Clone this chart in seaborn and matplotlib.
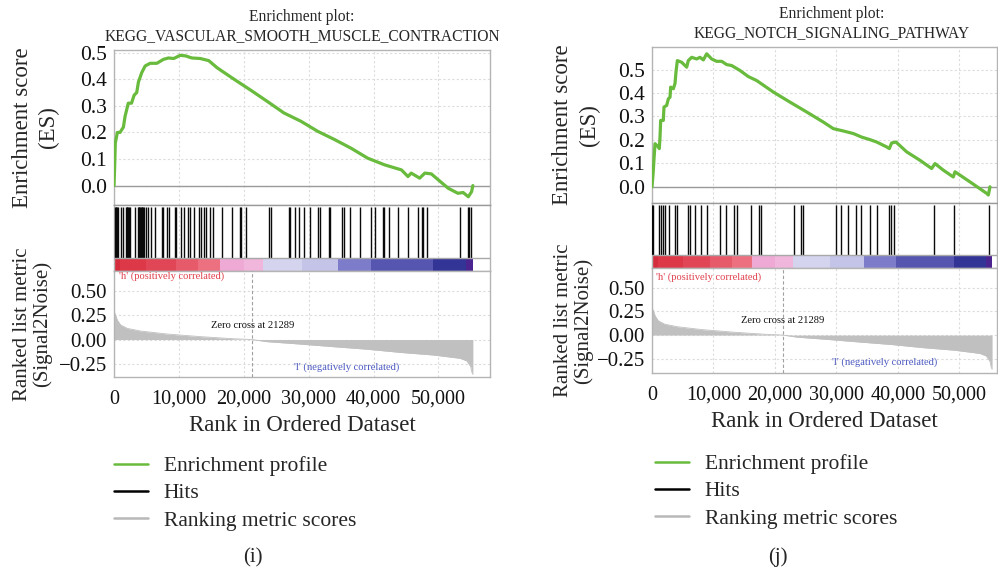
import numpy as np
import matplotlib
matplotlib.use("Agg")
import matplotlib.pyplot as plt
from matplotlib.lines import Line2D
from matplotlib.ticker import FixedLocator, FuncFormatter
import seaborn as sns

# ---------------- data ----------------
N_GENES = 55300
ZERO_CROSS = 21289

# panel (i): KEGG_VASCULAR_SMOOTH_MUSCLE_CONTRACTION
es_rank_i = [0, 100, 200, 520, 930, 1450, 1700, 2200, 2700, 3100, 3500, 3770, 4280,
             4800, 5570, 6600, 7640, 8400, 9200, 10200, 11000, 12000, 13300, 14600,
             15900, 18500, 21000, 23600, 26200, 28800, 31400, 34000, 36500, 39100,
             41700, 44300, 45300, 45800, 47100, 47900, 48900, 50000, 51500, 53000,
             53800, 54600, 55100, 55300]
es_val_i = [0.0, 0.07, 0.16, 0.20, 0.20, 0.22, 0.26, 0.31, 0.31, 0.34, 0.35, 0.39, 0.425,
            0.45, 0.46, 0.46, 0.475, 0.48, 0.478, 0.49, 0.488, 0.48, 0.478, 0.47,
            0.443, 0.40, 0.36, 0.317, 0.273, 0.242, 0.204, 0.173, 0.141, 0.103,
            0.078, 0.059, 0.034, 0.047, 0.028, 0.047, 0.044, 0.021, -0.01, -0.029,
            -0.026, -0.042, -0.023, 0.0]
hits_i = [108, 240, 369, 500, 615, 1138, 1446, 1799, 1930, 2061, 2180, 2307, 2461, 3230,
          3691, 3800, 3907, 4010, 4107, 4250, 4368, 4500, 4614, 4876, 5229, 5752, 6306,
          7336, 7598, 8213, 8521, 9336, 9597, 10366, 10766, 11443, 11689, 12304, 13027,
          13442, 13842, 14103, 14765, 15288, 16672, 18210, 19379, 19640, 20409, 23947,
          24208, 26915, 27177, 27838, 28561, 29222, 30252, 31437, 31790, 33067, 33329,
          35128, 35374, 36297, 37943, 39588, 40250, 41526, 41680, 42449, 43741, 45279,
          46817, 47432, 47678, 48201, 53323, 54507, 54707, 54969]

# panel (j): KEGG_NOTCH_SIGNALING_PATHWAY
es_rank_j = [0, 200, 330, 490, 1030, 1190, 1300, 1410, 1840, 1950, 2385, 2660, 2930,
             3035, 3470, 3740, 3900, 4120, 4820, 5640, 5900, 6450, 7260, 7800, 8350,
             8890, 9700, 10500, 11330, 12140, 12950, 14300, 15660, 17020, 19730, 22440,
             25150, 27860, 29480, 31110, 32740, 34090, 35450, 36530, 38160, 38590,
             38970, 39670, 41410, 43580, 45470, 46020, 47370, 48990, 49270, 51710,
             54420, 54690, 54960]
es_val_j = [0.0, 0.064, 0.12, 0.184, 0.17, 0.163, 0.21, 0.283, 0.283, 0.34, 0.347, 0.375,
            0.382, 0.425, 0.418, 0.44, 0.489, 0.538, 0.531, 0.51, 0.538, 0.552, 0.545,
            0.552, 0.541, 0.567, 0.545, 0.535, 0.535, 0.521, 0.517, 0.496, 0.47, 0.453,
            0.404, 0.361, 0.319, 0.276, 0.248, 0.238, 0.227, 0.212, 0.201, 0.191, 0.17,
            0.163, 0.187, 0.191, 0.149, 0.113, 0.078, 0.099, 0.071, 0.042, 0.064, 0.021,
            -0.028, -0.035, 0.0]
hits_j = [30, 160, 1089, 1415, 1789, 2163, 2764, 3691, 4114, 5854, 6130, 6943, 7918,
          8943, 11106, 12081, 13334, 13870, 16045, 17394, 17671, 23089, 24276, 24553,
          29870, 30683, 31821, 33122, 33935, 35447, 36634, 38585, 38813, 39398, 45853,
          49154, 54845]

# ranked list metric (Signal2Noise), shared by both panels
metric_rank = [0, 260, 520, 1030, 2060, 4100, 8210, 13330, 18460, 21289, 23590, 28720,
               33840, 38970, 44100, 49220, 53320, 54350, 54970, 55120, 55300]
metric_val = [0.29, 0.25, 0.20, 0.15, 0.115, 0.088, 0.057, 0.03, 0.008, 0.0, -0.022,
              -0.047, -0.074, -0.10, -0.133, -0.16, -0.194, -0.22, -0.28, -0.333, -0.36]

# phenotype colour bar: bin edges along the ranked list and their colours
cbar_edges = [0, 1000, 5000, 9500, 13000, 16300, 20000, 23000, 29000, 34500, 39600,
              49100, 54300, 55300]
cbar_colors = ['#d42c3c', '#dc3848', '#e04656', '#e65a6a', '#ec7080', '#eeaad4',
               '#f0b6dc', '#d4d4ef', '#c4c4e8', '#7c7cca', '#5656b0', '#323496',
               '#4c2490']

x_ticks = [0, 10000, 20000, 30000, 40000, 50000]
es_ticks = [0.0, 0.1, 0.2, 0.3, 0.4, 0.5]
metric_ticks = [-0.25, 0.0, 0.25, 0.50]

# ---------------- style ----------------
sns.set_theme(style="white")
plt.rcParams["font.family"] = ["Liberation Serif", "DejaVu Serif"]
plt.rcParams["axes.unicode_minus"] = True

GREEN = "#68bb3c"
GREY_FILL = "#c0c0c0"
SPINE = "#b4b4b4"
GRID = "#dcdcdc"

W, H = 998, 571
fig = plt.figure(figsize=(W / 100, H / 100), dpi=100)


def rect(x0, x1, y0, y1):
    """Pixel box (left, right, top, bottom) -> figure fraction rect."""
    return [x0 / W, 1 - y1 / H, (x1 - x0) / W, (y1 - y0) / H]


def style_axes(ax):
    for s in ax.spines.values():
        s.set_color(SPINE)
        s.set_linewidth(1.0)
    ax.tick_params(length=0, pad=5, colors="#111111")


def draw_panel(px, tops, title, title_x, es_rank, es_val, hits, es_ylim, xmax,
               metric_ylim, h_y, l_x, es_lab_x, rm_lab_x):
    x0, x1 = px
    t_es, t_hit, t_rm, b_rm = tops
    ax_es = fig.add_axes(rect(x0, x1, t_es, t_hit))
    ax_hit = fig.add_axes(rect(x0, x1, t_hit, t_rm), sharex=ax_es)
    ax_rm = fig.add_axes(rect(x0, x1, t_rm, b_rm), sharex=ax_es)
    for ax in (ax_es, ax_hit, ax_rm):
        style_axes(ax)

    # enrichment profile
    ax_es.grid(True, ls=(0, (2, 2)), color=GRID, lw=0.8)
    ax_es.axhline(0, color="#9a9a9a", lw=1.0, zorder=1)
    sns.lineplot(x=es_rank, y=es_val, ax=ax_es, color=GREEN, lw=2.3,
                 sort=False, estimator=None, zorder=3)
    ax_es.set_ylim(*es_ylim)
    ax_es.yaxis.set_major_locator(FixedLocator(es_ticks))
    ax_es.yaxis.set_major_formatter(FuncFormatter(lambda v, p: f"{v:.1f}"))
    ax_es.tick_params(axis="y", labelsize=15.5)
    ax_es.tick_params(axis="x", labelbottom=False)
    ax_es.set_xlabel("")
    ax_es.set_ylabel("Enrichment score\n(ES)", fontsize=16.5, linespacing=1.35)
    ax_es.yaxis.set_label_coords(es_lab_x, 0.5)
    ax_es.set_title(f"Enrichment plot:\n{title}", fontsize=11.2, pad=7,
                    linespacing=1.25, x=title_x)

    # hits and phenotype colour bar
    ax_hit.grid(True, axis="x", ls=(0, (2, 2)), color=GRID, lw=0.8)
    ax_hit.set_ylim(0, 1)
    ax_hit.vlines(hits, 0.2, 0.965, color="#0a0a0a", lw=1.0, zorder=3)
    ax_hit.bar(cbar_edges[:-1], 0.2, width=np.diff(cbar_edges), align="edge",
               color=cbar_colors, linewidth=0, zorder=2)
    ax_hit.axhline(0.2, color="#a8a8a8", lw=1.0, zorder=4)
    ax_hit.spines["top"].set_color("#9a9a9a")
    ax_hit.set_yticks([])
    ax_hit.tick_params(axis="x", labelbottom=False)

    # ranked list metric
    ax_rm.grid(True, ls=(0, (2, 2)), color=GRID, lw=0.8)
    ax_rm.fill_between(metric_rank, metric_val, 0, color=GREY_FILL, lw=0, zorder=2)
    sns.lineplot(x=metric_rank, y=metric_val, ax=ax_rm, color=GREY_FILL, lw=0.6,
                 sort=False, estimator=None, zorder=2)
    ax_rm.axvline(ZERO_CROSS, color="#a0a0a0", lw=0.8, ls=(0, (3, 2)), zorder=3)
    ax_rm.set_ylim(*metric_ylim)
    ax_rm.yaxis.set_major_locator(FixedLocator(metric_ticks))
    ax_rm.yaxis.set_major_formatter(FuncFormatter(lambda v, p: f"{v:.2f}".replace("-", "\u2212")))
    ax_rm.tick_params(axis="y", labelsize=15)
    ax_rm.xaxis.set_major_locator(FixedLocator(x_ticks))
    ax_rm.xaxis.set_major_formatter(FuncFormatter(lambda v, p: f"{int(v):,}"))
    ax_rm.tick_params(axis="x", labelsize=14.5, pad=9)
    ax_rm.set_xlim(0, xmax)
    ax_rm.set_xlabel("Rank in Ordered Dataset", fontsize=16.5, labelpad=5)
    ax_rm.set_ylabel("Ranked list metric\n(Signal2Noise)", fontsize=15, linespacing=1.0)
    ax_rm.yaxis.set_label_coords(rm_lab_x, 0.5)
    ax_rm.text(ZERO_CROSS, 0.15, f"Zero cross at {ZERO_CROSS}", ha="center",
               va="center", fontsize=7.6, color="#111111", zorder=5)
    ax_rm.text(0.013, h_y, "'h' (positively correlated)", transform=ax_rm.transAxes,
               ha="left", va="top", fontsize=7.6, color="#e0404c", zorder=5)
    ax_rm.text(l_x, -0.29, "'l' (negatively correlated)", ha="center", va="center",
               fontsize=7.6, color="#4a58c0", zorder=5)
    return ax_es, ax_hit, ax_rm


draw_panel((114, 490), (50, 205, 271, 377), "KEGG_VASCULAR_SMOOTH_MUSCLE_CONTRACTION", 0.5,
           es_rank_i, es_val_i, hits_i, (-0.073, 0.51), 57940, (-0.387, 0.708),
           1.0, 35840, -0.145, -0.165)
draw_panel((652, 997), (47, 203, 268, 373), "KEGG_NOTCH_SIGNALING_PATHWAY", 0.52,
           es_rank_j, es_val_j, hits_j, (-0.069, 0.596), 56100, (-0.40, 0.707),
           0.96, 37880, -0.152, -0.172)

# legends and panel letters
legend_handles = [Line2D([], [], color=GREEN, lw=1.8),
                  Line2D([], [], color="black", lw=1.8),
                  Line2D([], [], color="#b8b8b8", lw=1.8)]
legend_labels = ["Enrichment profile", "Hits", "Ranking metric scores"]
for lx, ly in ((114, 456), (655, 454)):
    fig.legend(legend_handles, legend_labels, loc="upper left",
               bbox_to_anchor=(lx / W, 1 - ly / H), frameon=False, fontsize=15.5,
               handlelength=1.6, handletextpad=0.7, labelspacing=0.34,
               borderpad=0, borderaxespad=0)

fig.text(253 / W, 1 - 558 / H, "(i)", ha="center", va="center", fontsize=15)
fig.text(778 / W, 1 - 557 / H, "(j)", ha="center", va="center", fontsize=15)

fig.savefig("out.png", dpi=100, facecolor="white")
